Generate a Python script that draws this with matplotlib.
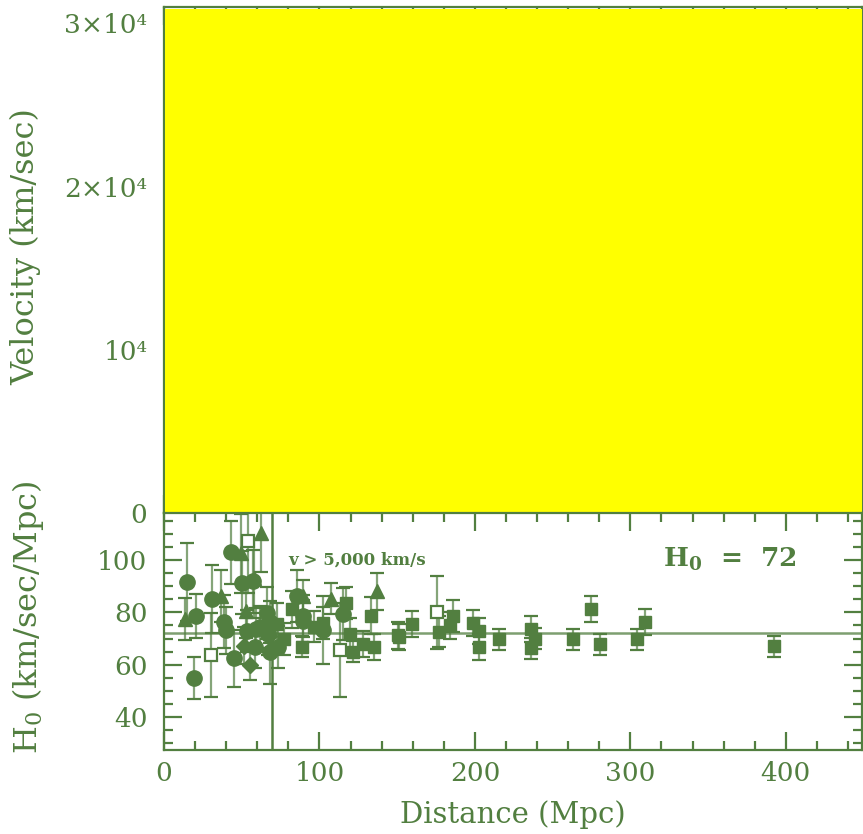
import numpy as np
import matplotlib
matplotlib.use('Agg')
import matplotlib.pyplot as plt
from matplotlib.ticker import MultipleLocator, FixedLocator

green = '#527f40'
plt.rcParams['font.family'] = 'DejaVu Serif'
plt.rcParams['mathtext.default'] = 'regular'

# H0 vs distance, by marker type: distance (Mpc), H0, error
circ_d = [14.6, 20.4, 19.5, 31.0, 38.8, 39.7, 45.0, 42.9, 50.4, 57.4, 53.6, 58.5,
          66.4, 68.2, 73.5, 85.3, 89.2, 89.6, 102.0, 114.9, 61.7, 59.2, 68.2, 67.1]
circ_h = [91.7, 78.6, 54.9, 85.3, 76.5, 73.1, 62.4, 103.0, 91.3, 91.9, 72.8, 66.7,
          79.9, 64.7, 66.7, 86.2, 78.5, 76.7, 73.1, 79.5, 74.4, 73.7, 76.3, 71.8]
circ_e = [15, 8.5, 8, 13, 10, 9, 11, 12, 12, 12, 8, 8,
          10, 12, 8, 10, 8, 8, 13, 10, 8, 8, 8, 8]

tri_d = [13.7, 36.4, 49.5, 52.5, 58.1, 62.4, 89.6, 107.4, 136.8]
tri_h = [77.6, 86.2, 102.6, 80.4, 93.0, 110.5, 86.2, 85.3, 88.1]
tri_e = [8, 10, 15, 10, 15, 15, 6, 6, 7]

dia_d = [51.6, 55.3, 67.7]
dia_h = [67.3, 60.0, 70.8]
dia_e = [7, 6, 6]

osq_d = [53.8, 30.2, 113.2, 175.4]
osq_h = [107.4, 63.7, 65.6, 80.1]
osq_e = [20, 16, 18, 14]

sq_d = [72.4, 77.4, 82.5, 88.5, 96.5, 102.0, 116.8, 119.6, 121.3, 127.8, 132.9, 135.3,
        150.7, 151.3, 159.3, 177.0, 183.9, 185.6, 198.9, 202.8, 202.8, 215.2, 236.0,
        236.4, 238.8, 262.8, 274.8, 280.6, 304.0, 309.7, 392.5]
sq_h = [75.6, 69.9, 81.2, 66.9, 74.6, 75.9, 83.6, 71.8, 65.0, 68.0, 78.7, 66.7,
        71.2, 70.5, 75.6, 72.7, 75.0, 78.7, 75.9, 72.8, 66.9, 69.7, 73.7,
        66.3, 69.9, 69.7, 81.4, 67.8, 69.7, 76.2, 67.0]
sq_e = [8, 6, 7, 4, 6, 6, 6, 6, 4, 5, 7, 5,
        5, 5, 5, 6, 5, 6, 5, 5, 5, 4, 5,
        4, 4, 4, 5, 4, 4, 5, 4]

H0 = 72
v_cut = 5000
top_x = [0.5, 449]
top_v = [30850, 30850]

fig = plt.figure(figsize=(8.63, 8.34), dpi=100)
ax1 = fig.add_axes([164/863, 1-513/834, 698/863, 506/834])
ax2 = fig.add_axes([164/863, 1-750/834, 698/863, 237/834])

for ax in (ax1, ax2):
    for s in ax.spines.values():
        s.set_color(green)
        s.set_linewidth(1.6)
    ax.tick_params(which='both', direction='in', top=True, right=True,
                   color=green, labelcolor=green, width=1.6, labelsize=19)
    ax.tick_params(which='major', length=13, pad=12)
    ax.tick_params(which='minor', length=6.5)
    ax.set_xlim(0, 449)
    ax.xaxis.set_major_locator(MultipleLocator(100))
    ax.xaxis.set_minor_locator(MultipleLocator(20))

# top panel: velocity
ax1.set_ylim(0, 31000)
ax1.yaxis.set_major_locator(FixedLocator([0, 1e4, 2e4, 3e4]))
ax1.yaxis.set_minor_locator(MultipleLocator(2000))
ax1.set_yticklabels(['0', '10⁴', '2×10⁴', '3×10⁴'])
ax1.tick_params(axis='x', labelbottom=False)
ax1.fill_between(top_x, 0, top_v, color='yellow', zorder=3, lw=0)

# bottom panel: H0
ax2.set_ylim(27.4, 118)
ax2.yaxis.set_major_locator(MultipleLocator(20))
ax2.yaxis.set_minor_locator(MultipleLocator(5))
ax2.tick_params(axis='x', pad=8)

ax2.axhline(H0, color=green, lw=1.8, alpha=0.75, zorder=1)
ax2.axvline(v_cut/H0, color=green, lw=1.8, zorder=1)

ekw = dict(ecolor=green, elinewidth=1.6, capsize=5, capthick=1.6, ls='none', zorder=2)
ax2.errorbar(sq_d, sq_h, yerr=sq_e, fmt='s', ms=8, color=green, **ekw)
ax2.errorbar(osq_d, osq_h, yerr=osq_e, fmt='s', ms=8, mfc='white', mec=green, mew=1.6, **ekw)
ax2.errorbar(dia_d, dia_h, yerr=dia_e, fmt='D', ms=8, color=green, **ekw)
ax2.errorbar(tri_d, tri_h, yerr=tri_e, fmt='^', ms=9.5, color=green, **ekw)
ax2.errorbar(circ_d, circ_h, yerr=circ_e, fmt='o', ms=11, color=green, **ekw)
for c in ax2.collections:
    c.set_alpha(0.7)

ax2.text(79.7, 100, 'v > 5,000 km/s', color=green, fontsize=12, fontweight='bold',
         ha='left', va='center')
ax2.text(320.9, 97.3, 'H$_0$  =  72', color=green, fontsize=19, fontweight='bold',
         ha='left', va='baseline')

fig.text(26/863, 1-247/834, 'Velocity (km/sec)', rotation=90, ha='center', va='center',
         color=green, fontsize=23)
fig.text(28/863, 1-617/834, 'H$_0$ (km/sec/Mpc)', rotation=90, ha='center', va='center',
         color=green, fontsize=23)
fig.text(513/863, 1-815/834, 'Distance (Mpc)', ha='center', va='center',
         color=green, fontsize=21)

fig.savefig('out.png', dpi=100)
